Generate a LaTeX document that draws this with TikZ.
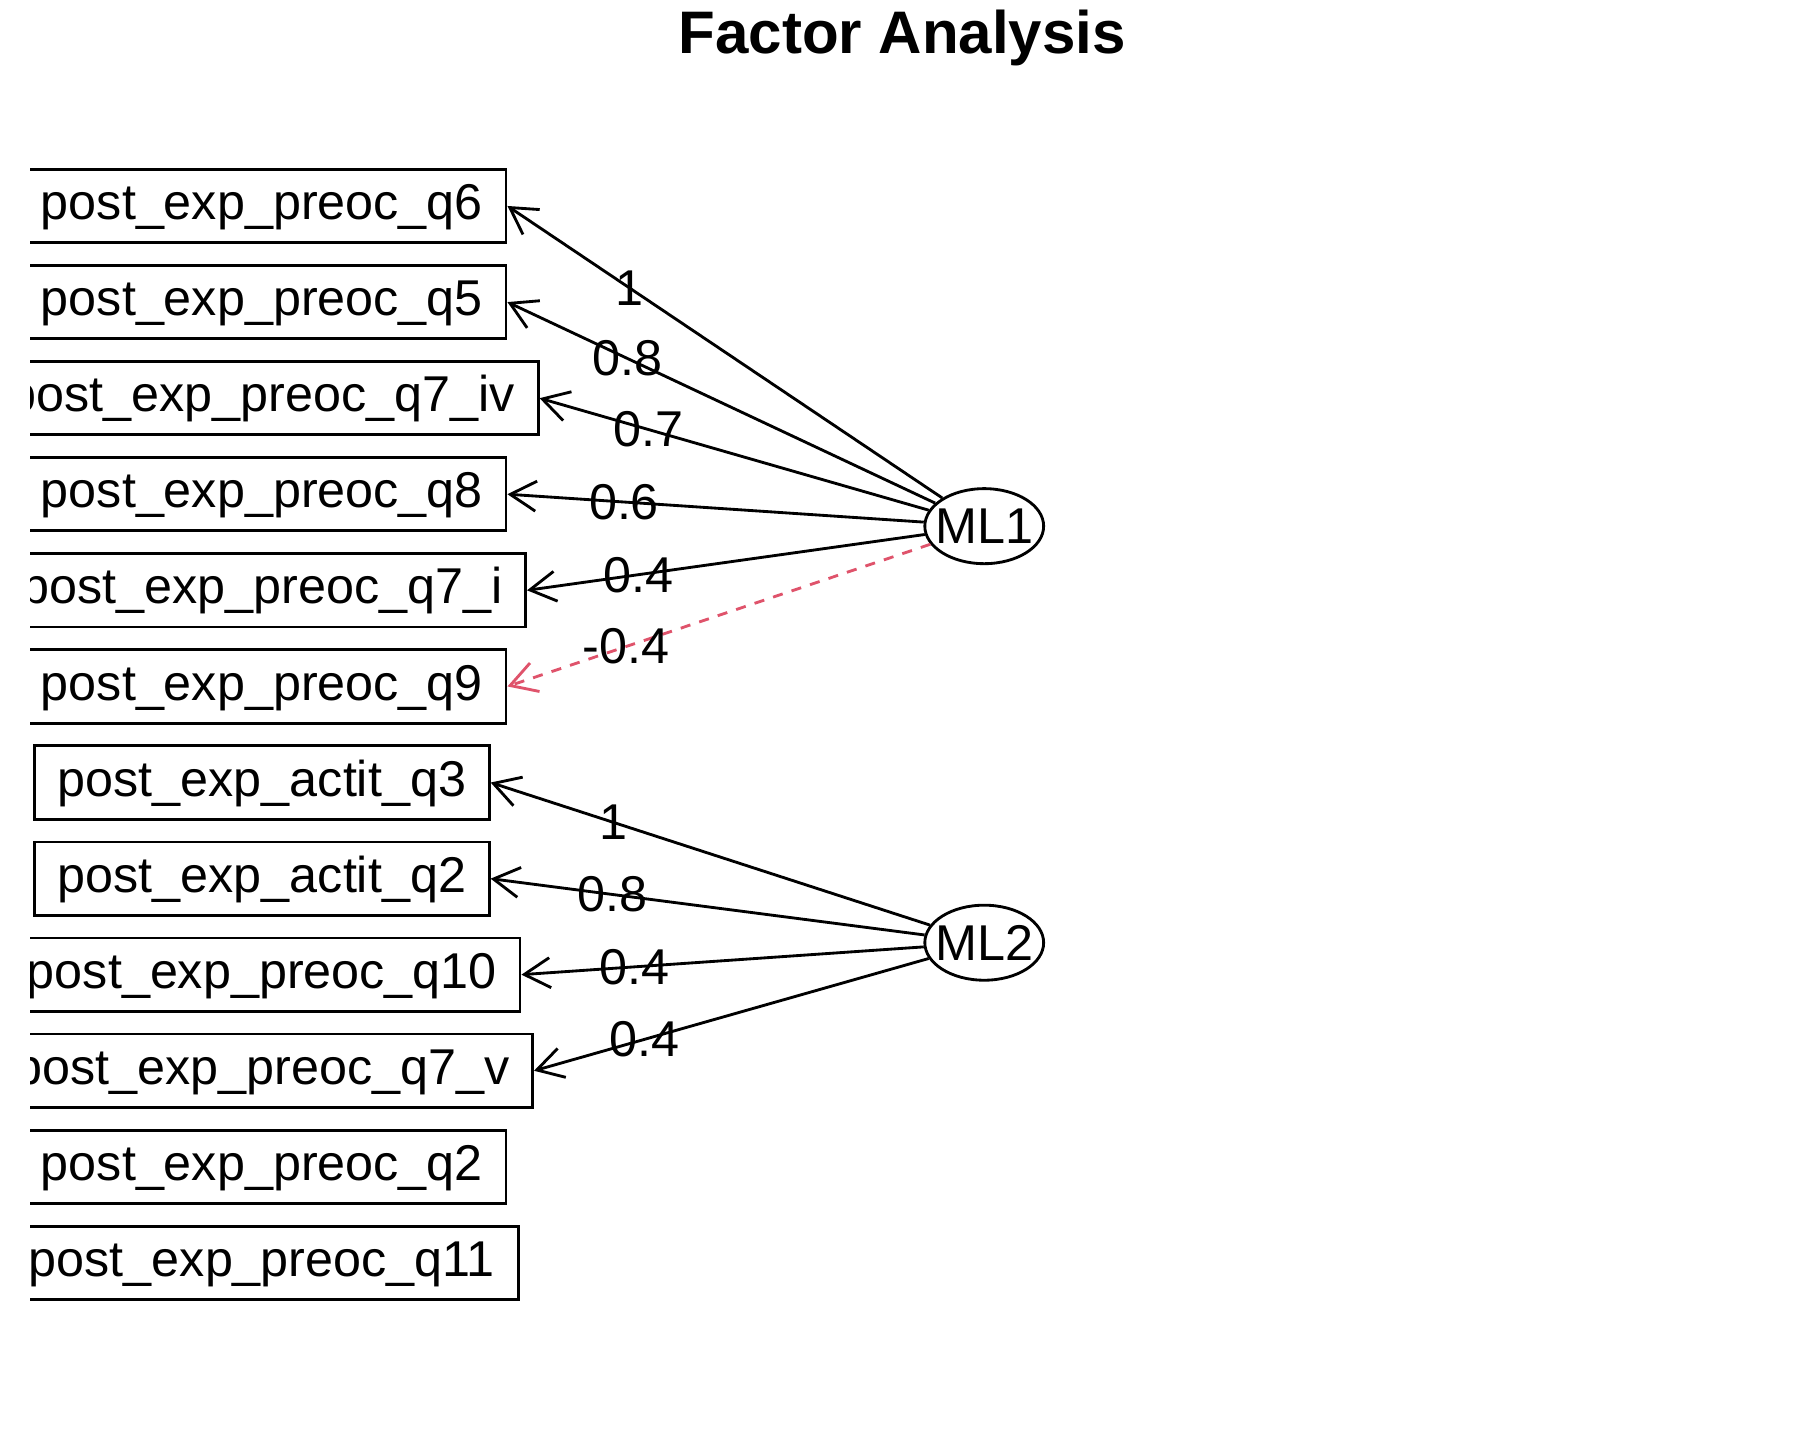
\documentclass[tikz,border=0pt]{standalone}
\usepackage{fontspec}
\setmainfont{Liberation Sans}
\usetikzlibrary{arrows.meta,shapes.geometric}
\definecolor{negred}{HTML}{DF536B}

\begin{document}
\begin{tikzpicture}[x=0.01cm, y=-0.01cm,
	every node/.style={font=\fontsize{12.4}{15}\selectfont},
	item/.style={draw, line width=.7pt, inner xsep=.2cm, inner ysep=0pt, minimum height=.636cm, text height=.8em, text depth=.13em},
	factor/.style={draw, ellipse, line width=.7pt, inner xsep=-.06cm, inner ysep=0pt, minimum width=1.01cm, minimum height=.65cm},
	load/.style={line width=.7pt, -{Straight Barb[length=.225cm, width=.26cm]}},
	neg/.style={load, draw=negred, dash pattern=on 2.5pt off 2.3pt},
	lbl/.style={inner sep=0pt, pos=.72}]
	\useasboundingbox (0, 0) rectangle (1560, 1248);
	\node[font=\fontsize{14.8}{17}\selectfont\bfseries, text depth=0pt] (title) at (782, 27.5) {Factor Analysis};
	% observed variables, cut at the left edge of the plot
	\begin{scope}
		\clip (26, 0) rectangle (1560, 1248);
		\node[item] (preoc6) at (227, 178.5) {post\_exp\_preoc\_q6};
		\node[item] (preoc5) at (227, 261.8) {post\_exp\_preoc\_q5};
		\node[item] (preoc7iv) at (227, 345.1) {post\_exp\_preoc\_q7\_iv};
		\node[item] (preoc8) at (227, 428.3) {post\_exp\_preoc\_q8};
		\node[item] (preoc7i) at (227, 511.6) {post\_exp\_preoc\_q7\_i};
		\node[item] (preoc9) at (227, 594.9) {post\_exp\_preoc\_q9};
		\node[item] (actit3) at (227, 678.2) {post\_exp\_actit\_q3};
		\node[item] (actit2) at (227, 761.5) {post\_exp\_actit\_q2};
		\node[item] (preoc10) at (227, 844.7) {post\_exp\_preoc\_q10};
		\node[item] (preoc7v) at (227, 928) {post\_exp\_preoc\_q7\_v};
		\node[item] (preoc2) at (227, 1011.3) {post\_exp\_preoc\_q2};
		\node[item] (preoc11) at (227, 1094.6) {post\_exp\_preoc\_q11};
	\end{scope}
	% factors
	\node[factor] (ML1) at (853, 456) {ML1};
	\node[factor] (ML2) at (853, 817) {ML2};
	% loadings
	\draw[load] (ML1) -- node[lbl] {1} (preoc6.east);
	\draw[load] (ML1) -- node[lbl] {0.8} (preoc5.east);
	\draw[load] (ML1) -- node[lbl] {0.7} (preoc7iv.east);
	\draw[load] (ML1) -- node[lbl] {0.6} (preoc8.east);
	\draw[load] (ML1) -- node[lbl] {0.4} (preoc7i.east);
	\draw[neg] (ML1) -- node[lbl] {-0.4} (preoc9.east);
	\draw[load] (ML2) -- node[lbl] {1} (actit3.east);
	\draw[load] (ML2) -- node[lbl] {0.8} (actit2.east);
	\draw[load] (ML2) -- node[lbl] {0.4} (preoc10.east);
	\draw[load] (ML2) -- node[lbl] {0.4} (preoc7v.east);
\end{tikzpicture}
\end{document}
